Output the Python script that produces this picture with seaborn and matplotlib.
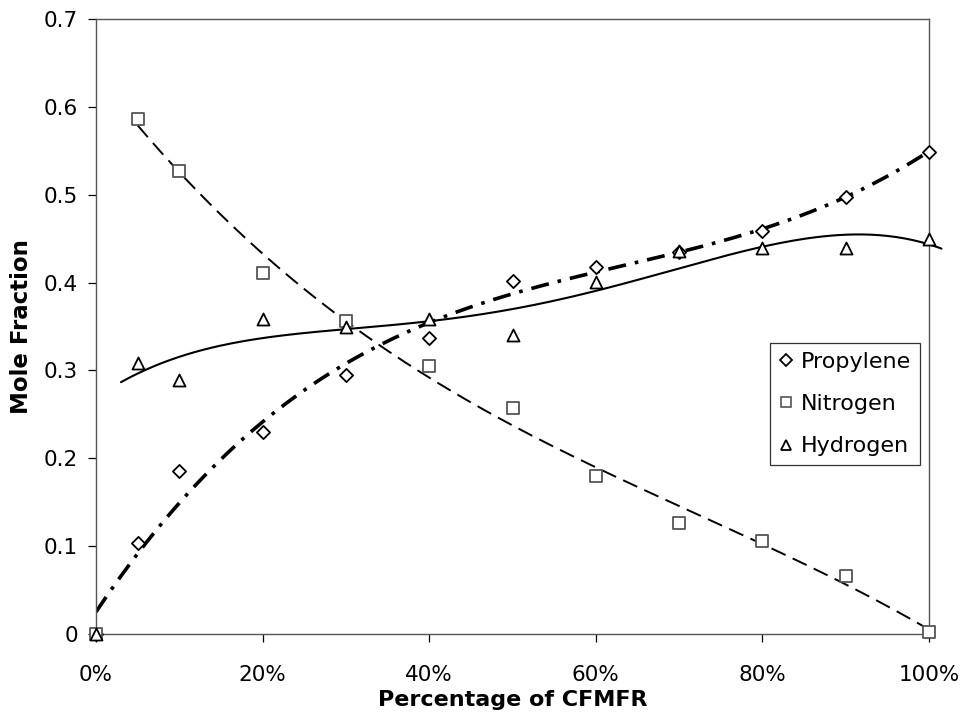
import numpy as np
import pandas as pd
import matplotlib
matplotlib.use("Agg")
import matplotlib.pyplot as plt
import seaborn as sns
from matplotlib.ticker import FuncFormatter
from matplotlib.lines import Line2D

# ---- data ----
pct = [0, 5, 10, 20, 30, 40, 50, 60, 70, 80, 90, 100]
propylene = [0.0, 0.104, 0.185, 0.230, 0.295, 0.337, 0.402, 0.418, 0.435, 0.459, 0.497, 0.549]
nitrogen = [0.0, 0.586, 0.527, 0.411, 0.356, 0.305, 0.257, 0.180, 0.126, 0.106, 0.066, 0.002]
hydrogen = [0.0, 0.308, 0.289, 0.358, 0.349, 0.358, 0.340, 0.401, 0.436, 0.439, 0.439, 0.450]
series_names = ["Propylene", "Nitrogen", "Hydrogen"]
x_ticks = [0, 20, 40, 60, 80, 100]
y_ticks = [0, 0.1, 0.2, 0.3, 0.4, 0.5, 0.6, 0.7]

sns.set_theme(style="white")
plt.rcParams['font.family'] = ['DejaVu Sans']
plt.rcParams['text.color'] = 'black'
plt.rcParams['axes.labelcolor'] = 'black'

fig = plt.figure(figsize=(9.67, 7.2), dpi=100)
ax = fig.add_axes([96/967, 1-634/720, (929-96)/967, (634-19)/720])

x = np.array(pct, float)
m = x >= 5

# trend lines (polynomial fits computed from the data)
c_prop = np.polyfit(x, np.array(propylene), 3)
xp = np.linspace(0, 100, 200)
sns.lineplot(x=xp, y=np.polyval(c_prop, xp), ax=ax, color="black", lw=2.6,
             linestyle=(0, (5, 2.5, 1, 2.5)), legend=False, zorder=2)

c_n = np.polyfit(x[m], np.array(nitrogen)[m], 3)
xn = np.linspace(5, 100, 200)
sns.lineplot(x=xn, y=np.polyval(c_n, xn), ax=ax, color="black", lw=1.4,
             linestyle=(0, (8, 4)), legend=False, zorder=2)

c_h = np.polyfit(x[m], np.array(hydrogen)[m], 4)
xh = np.linspace(3, 101.5, 200)
sns.lineplot(x=xh, y=np.polyval(c_h, xh), ax=ax, color="black", lw=1.5,
             linestyle="-", legend=False, zorder=2)
ax.lines[-1].set_clip_on(False)

# markers
specs = [("Propylene", propylene, "D", "black", 45),
         ("Nitrogen", nitrogen, "s", "#555555", 70),
         ("Hydrogen", hydrogen, "^", "black", 75)]
for name, vals, mk, ec, s in specs:
    sns.scatterplot(x=pct, y=vals, marker=mk, s=s, facecolor="white",
                    edgecolor=ec, linewidth=1.3, ax=ax, zorder=3, legend=False)
    ax.collections[-1].set_clip_on(False)

# legend
handles = [Line2D([], [], marker="D", ls="", mfc="white", mec="black", ms=6, mew=1.3),
           Line2D([], [], marker="s", ls="", mfc="white", mec="#555555", ms=6.5, mew=1.2),
           Line2D([], [], marker="^", ls="", mfc="white", mec="black", ms=7, mew=1.3)]
leg = ax.legend(handles, series_names, loc="upper left",
                bbox_to_anchor=((770-96)/833, 1-(343-19)/615),
                frameon=True, fancybox=False, edgecolor="black", fontsize=16,
                handlelength=0.6, handletextpad=0.4, borderpad=0.4,
                labelspacing=1.0, borderaxespad=0)
leg.get_frame().set_linewidth(0.9)
for t in leg.get_texts():
    t.set_color("black")

ax.set_xlim(0, 100)
ax.set_ylim(0, 0.7)
ax.set_xticks(x_ticks)
ax.set_yticks(y_ticks)
ax.xaxis.set_major_formatter(FuncFormatter(lambda v, p: f"{int(v)}%"))
ax.yaxis.set_major_formatter(FuncFormatter(lambda v, p: "0" if v == 0 else f"{v:.1f}"))
ax.tick_params(axis="both", which="major", direction="out", length=6, width=0.9,
               colors="black", labelsize=15.5, bottom=True, left=True)
ax.tick_params(axis="y", pad=7)
ax.tick_params(axis="x", pad=16)
for sp in ax.spines.values():
    sp.set_color("#555555")
    sp.set_linewidth(1.0)
ax.set_xlabel("Percentage of CFMFR", fontsize=16, fontweight="bold", labelpad=4,
              color="black")
ax.set_ylabel("Mole Fraction", fontsize=16.5, fontweight="bold", labelpad=8,
              color="black")
ax.grid(False)

fig.savefig("out.png", dpi=100, facecolor="white")
